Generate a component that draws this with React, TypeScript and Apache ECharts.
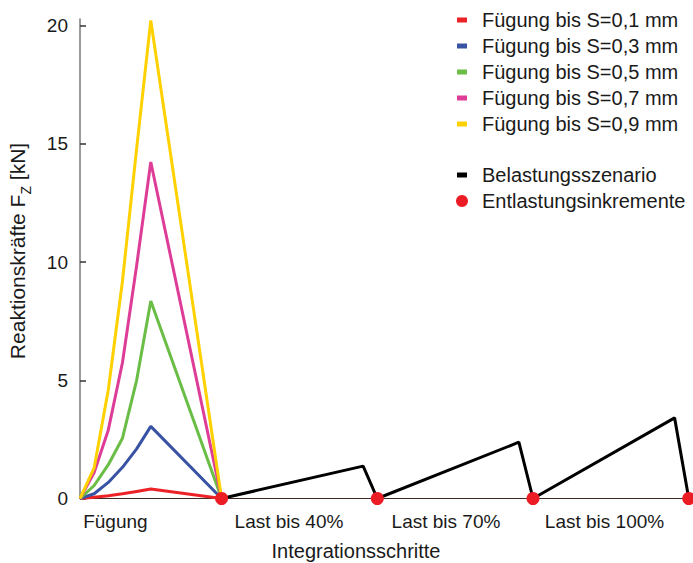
import React, { useEffect, useRef } from "react";
import * as echarts from "echarts";

const fuegungSteps = [0, 1, 2, 3, 4, 5, 10];
const s01 = [0, 0.05, 0.12, 0.2, 0.3, 0.4, 0];
const s03 = [0, 0.2, 0.68, 1.32, 2.1, 3.05, 0];
const s05 = [0, 0.55, 1.43, 2.55, 5.0, 8.35, 0];
const s07 = [0, 1.1, 2.9, 5.75, 9.85, 14.23, 0];
const s09 = [0, 1.3, 4.6, 9.2, 14.8, 20.22, 0];

const belastungX = [10, 20, 21, 31, 32, 42, 43];
const belastungY = [0, 1.37, 0, 2.38, 0, 3.41, 0];

const entlastungX = [10, 21, 32, 43];
const entlastungY = [0, 0, 0, 0];

const seriesNames = [
  "Fügung bis S=0,1 mm",
  "Fügung bis S=0,3 mm",
  "Fügung bis S=0,5 mm",
  "Fügung bis S=0,7 mm",
  "Fügung bis S=0,9 mm",
];
const seriesColors = ["#ec2227", "#3953a4", "#6abd45", "#dd3c97", "#ffd100"];
const seriesValues = [s01, s03, s05, s07, s09];

const phaseLabels = ["Fügung", "Last bis 40%", "Last bis 70%", "Last bis 100%"];
const phaseLabelPos = [2.5, 14.76, 25.85, 37.05];
const yTicks = [0, 5, 10, 15, 20];

const FONT = "Liberation Sans";

export default function App() {
  const ref = useRef<HTMLDivElement>(null);
  useEffect(() => {
    document.body.style.margin = "0";
    const chart = echarts.init(ref.current!, null, { renderer: "svg" });
    const legendText = {
      fontSize: 20,
      color: "#1a1a1a",
      fontFamily: FONT,
      lineHeight: 22,
      padding: [0, 0, 0, 10],
    };
    chart.setOption({
      animation: false,
      textStyle: { fontFamily: FONT },
      grid: { left: 80, right: 0, top: 19, bottom: 64.5, containLabel: false },
      legend: [
        {
          data: seriesNames,
          orient: "vertical",
          left: 457,
          top: 9,
          padding: 0,
          itemGap: 4,
          itemWidth: 10,
          itemHeight: 5,
          icon: "rect",
          textStyle: legendText,
        },
        {
          data: ["Belastungsszenario"],
          orient: "vertical",
          left: 457,
          top: 164,
          padding: 0,
          itemWidth: 10,
          itemHeight: 5,
          icon: "rect",
          textStyle: legendText,
        },
        {
          data: ["Entlastungsinkremente"],
          orient: "vertical",
          left: 456,
          top: 190,
          padding: 0,
          itemWidth: 12,
          itemHeight: 12,
          icon: "circle",
          itemStyle: { opacity: 1 },
          textStyle: { ...legendText, padding: [0, 0, 0, 9] },
        },
      ],
      xAxis: {
        type: "value",
        min: 0,
        max: 43.3,
        axisLine: { show: true, lineStyle: { color: "#3a2a22", width: 1 } },
        axisTick: { show: false },
        splitLine: { show: false },
        axisLabel: {
          customValues: phaseLabelPos,
          formatter: (v: number) => {
            const i = phaseLabelPos.findIndex((p) => Math.abs(p - v) < 1e-6);
            return i >= 0 ? phaseLabels[i] : "";
          },
          fontSize: 19,
          color: "#1a1a1a",
          margin: 13,
          fontFamily: FONT,
        },
      },
      yAxis: {
        type: "value",
        min: 0,
        max: 20.28,
        interval: 5,
        axisLine: { show: true, lineStyle: { color: "#7a7a7a", width: 1.5 } },
        axisTick: {
          show: true,
          inside: true,
          length: 6,
          customValues: yTicks,
          lineStyle: { color: "#333", width: 1.5 },
        },
        axisLabel: {
          customValues: yTicks,
          fontSize: 19,
          color: "#1a1a1a",
          margin: 12,
          fontFamily: FONT,
        },
        splitLine: { show: false },
      },
      graphic: [
        {
          type: "text",
          x: 356,
          y: 551,
          style: {
            text: "Integrationsschritte",
            fontSize: 20,
            fontFamily: FONT,
            fill: "#1a1a1a",
            align: "center",
            verticalAlign: "middle",
          },
        },
        {
          type: "text",
          x: 20,
          y: 251,
          rotation: Math.PI / 2,
          style: {
            text: "{a|Reaktionskräfte F}{b|Z}{a| [kN]}",
            align: "center",
            verticalAlign: "middle",
            fill: "#1a1a1a",
            rich: {
              a: { fontSize: 21, fontFamily: FONT, fill: "#1a1a1a", padding: [0, 0, 5, 0] },
              b: { fontSize: 14, fontFamily: FONT, fill: "#1a1a1a", verticalAlign: "bottom" },
            },
          },
        },
      ],
      series: [
        ...seriesNames.map((name, i) => ({
          name,
          type: "line",
          data: fuegungSteps.map((x, j) => [x, seriesValues[i][j]]),
          symbol: "none",
          color: seriesColors[i],
          lineStyle: { width: 3, color: seriesColors[i] },
        })),
        {
          name: "Belastungsszenario",
          type: "line",
          data: belastungX.map((x, j) => [x, belastungY[j]]),
          symbol: "none",
          color: "#000000",
          lineStyle: { width: 3, color: "#000000" },
        },
        {
          name: "Entlastungsinkremente",
          type: "scatter",
          data: entlastungX.map((x, j) => [x, entlastungY[j]]),
          symbol: "circle",
          symbolSize: 13,
          color: "#ec1c24",
          itemStyle: { color: "#ec1c24", opacity: 1 },
          clip: false,
          z: 5,
        },
      ],
    });
    return () => chart.dispose();
  }, []);
  return <div ref={ref} style={{ width: 693, height: 563 }} />;
}
